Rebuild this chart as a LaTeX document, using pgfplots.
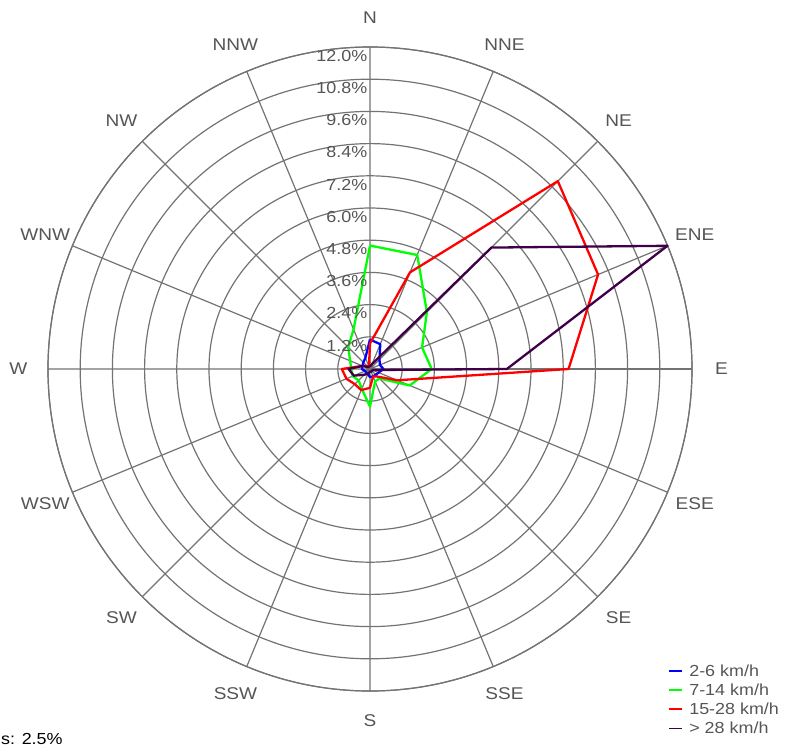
\documentclass[border=0pt]{standalone}
\usepackage{fontspec}
\setmainfont{Liberation Sans}[FakeStretch=1.12]
\usepackage{pgfplots}
\pgfplotsset{compat=1.18}
\usepgfplotslibrary{polar}
\usepackage{pgfplotstable}
\definecolor{gridgray}{RGB}{115,115,115}
\definecolor{txtgray}{RGB}{85,85,85}
\definecolor{sblue}{RGB}{0,0,255}
\definecolor{sgreen}{RGB}{0,255,0}
\definecolor{sred}{RGB}{255,0,0}
\definecolor{spurple}{RGB}{64,0,72}

% angle (math degrees, N = 90, clockwise order), values in percent
\pgfplotstableread{
angle blue green red purple
90    1.10 4.60 0.95 0.10
67.5  1.00 4.60 3.90 0.20
45    0.50 3.00 9.90 6.40
22.5  0.40 2.10 9.20 12.00
0     0.50 2.30 7.40 5.10
337.5 0.35 1.60 1.10 0.10
315   0.30 0.50 0.40 0.10
292.5 0.30 0.50 0.30 0.10
270   0.30 1.40 0.70 0.10
247.5 0.20 0.80 0.85 0.20
225   0.20 0.60 0.80 0.30
202.5 0.20 0.70 0.95 0.65
180   0.30 0.70 1.05 0.80
157.5 0.30 0.80 0.30 0.30
135   0.35 1.15 0.15 0.10
112.5 0.45 1.60 0.10 0.10
90    1.10 4.60 0.95 0.10
}\wind

\tikzset{dirlab/.style={text=txtgray, font=\fontsize{17pt}{18pt}\selectfont, inner sep=0pt},
  radlab/.style={text=txtgray, font=\fontsize{16pt}{17pt}\selectfont, inner sep=0pt, anchor=north east, xshift=-2.5pt, yshift=-3pt}}

\begin{document}
\begin{tikzpicture}
\begin{polaraxis}[
  at={(0pt,0pt)}, anchor=center,
  width=644pt, height=644pt, scale only axis,
  ymin=0, ymax=12, xmin=0, xmax=360,
  clip=false,
  xtick={0,22.5,45,67.5,90,112.5,135,157.5,180,202.5,225,247.5,270,292.5,315,337.5},
  ytick={1.2,2.4,3.6,4.8,6,7.2,8.4,9.6,10.8,12},
  xticklabels={}, yticklabels={},
  major tick length=0pt,
  grid=major,
  major grid style={draw=gridgray, line width=1.2pt},
  axis line style={draw=gridgray, line width=1.2pt},
  legend style={at={(0.963,0.043)}, anchor=north west, draw=none, fill=none,
    inner sep=0pt, row sep=4pt,
    font=\fontsize{16pt}{17pt}\selectfont\color{txtgray},
    nodes={inner sep=1pt}},
  legend cell align=left,
  legend image code/.code={\draw[#1, line width=1.6pt] (0pt,0pt) -- (13pt,0pt); \path (18pt,0pt);},
  every axis plot/.append style={line width=2.3pt, line join=round},
]
\addplot[sblue] table[x=angle, y=blue] {\wind};
\addlegendentry{2-6 km/h}
\addplot[sgreen] table[x=angle, y=green] {\wind};
\addlegendentry{7-14 km/h}
\addplot[sred] table[x=angle, y=red] {\wind};
\addlegendentry{15-28 km/h}
\addplot[spurple] table[x=angle, y=purple] {\wind};
\addlegendentry{> 28 km/h}

% direction labels
\node[dirlab] at (axis cs:90,13.1) {N};
\node[dirlab] at (axis cs:67.5,13.1) {NNE};
\node[dirlab] at (axis cs:45,13.1) {NE};
\node[dirlab] at (axis cs:22.5,13.1) {ENE};
\node[dirlab] at (axis cs:0,13.1) {E};
\node[dirlab] at (axis cs:337.5,13.1) {ESE};
\node[dirlab] at (axis cs:315,13.1) {SE};
\node[dirlab] at (axis cs:292.5,13.1) {SSE};
\node[dirlab] at (axis cs:270,13.1) {S};
\node[dirlab] at (axis cs:247.5,13.1) {SSW};
\node[dirlab] at (axis cs:225,13.1) {SW};
\node[dirlab] at (axis cs:202.5,13.1) {WSW};
\node[dirlab] at (axis cs:180,13.1) {W};
\node[dirlab] at (axis cs:157.5,13.1) {WNW};
\node[dirlab] at (axis cs:135,13.1) {NW};
\node[dirlab] at (axis cs:112.5,13.1) {NNW};
% radial labels
\node[radlab] at (axis cs:90,1.2) {1.2\%};
\node[radlab] at (axis cs:90,2.4) {2.4\%};
\node[radlab] at (axis cs:90,3.6) {3.6\%};
\node[radlab] at (axis cs:90,4.8) {4.8\%};
\node[radlab] at (axis cs:90,6) {6.0\%};
\node[radlab] at (axis cs:90,7.2) {7.2\%};
\node[radlab] at (axis cs:90,8.4) {8.4\%};
\node[radlab] at (axis cs:90,9.6) {9.6\%};
\node[radlab] at (axis cs:90,10.8) {10.8\%};
\node[radlab] at (axis cs:90,12) {12.0\%};
\end{polaraxis}
\node[text=black, font=\fontsize{16pt}{17pt}\selectfont, anchor=base west, inner sep=0pt] at (-369pt,-375pt) {s: 2.5\%};
\pgfresetboundingbox
\path[use as bounding box] (-370pt,-378pt) rectangle (417pt,369pt);
\end{tikzpicture}
\end{document}
